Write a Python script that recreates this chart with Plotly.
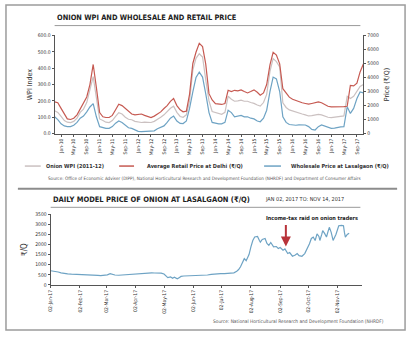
import pandas as pd
import plotly.graph_objects as go

# ---------------- monthly series, Nov-2009 .. Nov-2017 ----------------
months = pd.date_range("2009-11-01", "2017-11-01", freq="MS")

retail_delhi = [
    2260, 2200,
    1800, 1400, 1050, 1010, 1100, 1340, 1750, 2140, 2615, 3500, 4930, 3300,
    1500, 1200, 1150, 1150, 1300, 1700, 2100, 2000, 1800, 1555, 1400, 1340,
    1380, 1400, 1300, 1200, 1150, 1250, 1400, 1550, 1790, 2000, 2300, 2500,
    2000, 1700, 1555, 1600, 2800, 5000, 5800, 6430, 6200, 4970, 2850, 2400,
    2140, 2100, 2080, 2150, 3090, 3000, 3090, 3050, 3120, 3000, 2900, 3000,
    3120, 2950, 2735, 2900, 3500, 4900, 5800, 5600, 4970, 3200, 2850, 2600,
    2450, 2350, 2263, 2200, 2150, 2100, 2150, 2200, 2263, 2200, 2100, 1950,
    1910, 1900, 1900, 1910, 1920, 1950, 3440, 3400, 3600, 4400, 4970,
]

wholesale_lasalgaon = [
    1200, 1000,
    700, 550, 495, 500, 600, 800, 1100, 1250, 1550, 1900, 2140, 1200,
    495, 420, 380, 375, 500, 750, 900, 800, 600, 420, 375, 250,
    160, 140, 150, 140, 140, 200, 350, 450, 550, 800, 1100, 1250,
    900, 730, 720, 900, 1800, 2970, 4000, 4380, 4030, 2850, 1500, 800,
    730, 700, 700, 800, 1670, 1500, 1200, 1250, 1300, 1200, 1200, 1100,
    1050, 900, 850, 1100, 1670, 3000, 4030, 3900, 3000, 1200, 800, 650,
    615, 600, 620, 610, 615, 500, 300, 260, 500, 615, 550, 450,
    380, 400, 450, 480, 495, 1910, 1440, 1800, 2500, 2970, 2900,
]

onion_wpi = [
    140, 130,
    105, 80, 70, 68, 75, 95, 130, 150, 190, 260, 348, 220,
    90, 80, 70, 68, 80, 105, 128, 120, 100, 88, 85, 75,
    70, 68, 70, 68, 68, 75, 90, 100, 115, 135, 155, 168,
    130, 105, 100, 115, 200, 388, 460, 488, 468, 330, 200, 135,
    128, 120, 118, 130, 228, 210, 198, 200, 205, 198, 198, 190,
    185, 175, 168, 190, 240, 380, 458, 440, 408, 188, 160, 145,
    138, 130, 125, 120, 115, 108, 110, 115, 118, 115, 108, 100,
    98, 100, 102, 105, 108, 228, 215, 228, 260, 288, 300,
]

# ---------------- daily modal price at Lasalgaon, 2017 ----------------
daily_dates = [
    "2017-01-02", "2017-01-04", "2017-01-07", "2017-01-10", "2017-01-13", "2017-01-17",
    "2017-01-20", "2017-01-24", "2017-01-27", "2017-01-31", "2017-02-03", "2017-02-07",
    "2017-02-10", "2017-02-14", "2017-02-17", "2017-02-21", "2017-02-24", "2017-02-28",
    "2017-03-03", "2017-03-06", "2017-03-08", "2017-03-11", "2017-03-15", "2017-03-18",
    "2017-03-22", "2017-03-25", "2017-03-29", "2017-04-01", "2017-04-05", "2017-04-08",
    "2017-04-12", "2017-04-15", "2017-04-19", "2017-04-22", "2017-04-26", "2017-04-29",
    "2017-05-02", "2017-05-04", "2017-05-06", "2017-05-09", "2017-05-11", "2017-05-13",
    "2017-05-16", "2017-05-18", "2017-05-20", "2017-05-23", "2017-05-27", "2017-05-31",
    "2017-06-03", "2017-06-07", "2017-06-10", "2017-06-14", "2017-06-17", "2017-06-21",
    "2017-06-24", "2017-06-28", "2017-07-01", "2017-07-05", "2017-07-08", "2017-07-12",
    "2017-07-15", "2017-07-18", "2017-07-20", "2017-07-22", "2017-07-24", "2017-07-26",
    "2017-07-28", "2017-07-31", "2017-08-02", "2017-08-04", "2017-08-06", "2017-08-09",
    "2017-08-11", "2017-08-12", "2017-08-14", "2017-08-17", "2017-08-19", "2017-08-21",
    "2017-08-23", "2017-08-26", "2017-08-29", "2017-08-31", "2017-09-02", "2017-09-05",
    "2017-09-07", "2017-09-10", "2017-09-12", "2017-09-15", "2017-09-18", "2017-09-20",
    "2017-09-22", "2017-09-25", "2017-09-28", "2017-09-30", "2017-10-03", "2017-10-05",
    "2017-10-07", "2017-10-09", "2017-10-11", "2017-10-13", "2017-10-14", "2017-10-16",
    "2017-10-17", "2017-10-19", "2017-10-21", "2017-10-23", "2017-10-24", "2017-10-26",
    "2017-10-28", "2017-10-31", "2017-11-03", "2017-11-06", "2017-11-08", "2017-11-09",
    "2017-11-10", "2017-11-12", "2017-11-14",
]
daily_price = [
    700, 690, 670, 640, 600, 560,
    545, 530, 520, 510, 500, 495,
    485, 480, 470, 470, 465, 470,
    500, 560, 520, 490, 480, 490,
    500, 520, 545, 560, 575, 585,
    590, 600, 595, 590, 585, 580,
    540, 430, 360, 400, 330, 380,
    300, 360, 420, 440, 450, 455,
    450, 445, 455, 470, 490, 520,
    540, 550, 555, 560, 565, 575,
    600, 680, 760, 900, 1150, 1300,
    1200, 1500, 1880, 2200, 2370, 2400,
    2200, 2120, 2250, 2300, 2050, 1960,
    2100, 1880, 1900, 1800, 1850, 1720,
    1780, 1555, 1600, 1420, 1480, 1555,
    1450, 1420, 1550, 1720, 2040, 2300,
    2370, 2200, 2530, 2400, 2200, 2500,
    2690, 2550, 2370, 2700, 2850, 2600,
    2200, 2500, 2930, 2950, 2930, 2600,
    2370, 2500, 2560,
]

RED = "#c65a52"
BLUE = "#6ea3c4"
WPI_GREY = "#cbc1c1"
AXIS = "#555555"
NARROW = "Liberation Sans Narrow, DejaVu Sans Condensed, Arial Narrow, sans-serif"

W, H = 413, 339


def px(x):
    return x / W


def py(y):
    return 1 - y / H


fig = go.Figure()

fig.add_trace(go.Scatter(x=months, y=onion_wpi, mode="lines", name="Onion WPI (2011-12)",
                         line=dict(color=WPI_GREY, width=1.2), xaxis="x", yaxis="y"))
fig.add_trace(go.Scatter(x=months, y=retail_delhi, mode="lines",
                         name="Average Retail Price at Delhi (₹/Q)",
                         line=dict(color=RED, width=1.2), xaxis="x", yaxis="y2"))
fig.add_trace(go.Scatter(x=months, y=wholesale_lasalgaon, mode="lines",
                         name="Wholesale Price at Lasalgaon (₹/Q)",
                         line=dict(color=BLUE, width=1.2), xaxis="x", yaxis="y2"))
fig.add_trace(go.Scatter(x=pd.to_datetime(daily_dates), y=daily_price, mode="lines",
                         name="Lasalgaon modal price", line=dict(color=BLUE, width=1.2),
                         xaxis="x2", yaxis="y3"))

tickfont = dict(family=NARROW, size=5, color="#333333")
axis_common = dict(showgrid=False, zeroline=False, showline=True, linecolor=AXIS,
                   linewidth=1, ticks="outside", ticklen=2, tickcolor=AXIS,
                   tickfont=tickfont)

fig.update_layout(
    width=W, height=H,
    margin=dict(l=0, r=0, t=0, b=0),
    paper_bgcolor="white", plot_bgcolor="white",
    showlegend=False,
    xaxis=dict(domain=[px(52), px(363)], anchor="y",
               range=["2009-11-01", "2017-11-01"],
               tick0="2010-01-01", dtick="M4", tickformat="%b-%y", tickangle=-90,
               **axis_common),
    yaxis=dict(domain=[py(133), py(33)], anchor="x", range=[0, 600], dtick=100,
               tickformat=".1f",
               title=dict(text="WPI Index", font=dict(family=NARROW, size=7, color="#333"),
                          standoff=4),
               **axis_common),
    yaxis2=dict(overlaying="y", side="right", anchor="x", range=[0, 7000], dtick=1000,
                title=dict(text="Price (₹/Q)", font=dict(family=NARROW, size=7, color="#333"),
                           standoff=6),
                **axis_common),
    xaxis2=dict(domain=[px(48), px(362)], anchor="y3",
                range=["2017-01-02", "2017-11-28"],
                tick0="2017-01-02", dtick="M1", tickformat="%d-%b-%y", tickangle=-90,
                **axis_common),
    yaxis3=dict(domain=[py(287), py(215)], anchor="x2", range=[0, 3500], dtick=500,
                title=dict(text="₹/Q", font=dict(family=NARROW, size=8, color="#333"),
                           standoff=6),
                **axis_common),
)

shapes = [
    # outer frame
    dict(type="rect", xref="paper", yref="paper", x0=px(3), x1=px(405), y0=py(333), y1=py(2),
         line=dict(color="#9c9c9c", width=1.5)),
    # title rule, upper panel
    dict(type="line", xref="paper", yref="paper", x0=px(52), x1=px(360), y0=py(23), y1=py(23),
         line=dict(color="#9a9a9a", width=1)),
    # panel separator
    dict(type="line", xref="paper", yref="paper", x0=px(15), x1=px(397), y0=py(189), y1=py(189),
         line=dict(color="#8c8c8c", width=2)),
    # title rule, lower panel
    dict(type="line", xref="paper", yref="paper", x0=px(48), x1=px(360), y0=py(208), y1=py(208),
         line=dict(color="#9a9a9a", width=1)),
]

# legend of the upper panel
legend_items = [
    (22, 38, 41, "Onion WPI (2011-12)", WPI_GREY),
    (117, 132, 143, "Average Retail Price at Delhi (₹/Q)", RED),
    (263, 280, 288, "Wholesale Price at Lasalgaon (₹/Q)", BLUE),
]
annotations = []
for x0, x1, xt, label, color in legend_items:
    shapes.append(dict(type="line", xref="paper", yref="paper", x0=px(x0), x1=px(x1),
                       y0=py(166), y1=py(166), line=dict(color=color, width=1.5)))
    annotations.append(dict(xref="paper", yref="paper", x=px(xt), y=py(166), text=f"<b>{label}</b>",
                            showarrow=False, xanchor="left", yanchor="middle",
                            font=dict(family=NARROW, size=5.5, color="#333")))

annotations += [
    dict(xref="paper", yref="paper", x=px(52), y=py(15),
         text="<b>ONION WPI AND WHOLESALE AND RETAIL PRICE</b>", showarrow=False,
         xanchor="left", yanchor="middle", font=dict(family=NARROW, size=7.4, color="#222")),
    dict(xref="paper", yref="paper", x=px(203), y=py(179),
         text="Source: Office of Economic Adviser (DIPP), National Horticultural Research and "
              "Development Foundation (NHRDF) and Department of Consumer Affairs",
         showarrow=False, xanchor="center", yanchor="middle",
         font=dict(family=NARROW, size=4.6, color="#555")),
    dict(xref="paper", yref="paper", x=px(48), y=py(200),
         text="<b>DAILY MODEL PRICE OF ONION AT LASALGAON (₹/Q)</b>", showarrow=False,
         xanchor="left", yanchor="middle", font=dict(family=NARROW, size=7.5, color="#222")),
    dict(xref="paper", yref="paper", x=px(262), y=py(200),
         text="JAN 02, 2017 TO: NOV 14, 2017", showarrow=False,
         xanchor="left", yanchor="middle", font=dict(family=NARROW, size=5.5, color="#333")),
    dict(xref="paper", yref="paper", x=px(311), y=py(219),
         text="<b>Income-tax raid on onion traders</b>", showarrow=False,
         xanchor="center", yanchor="middle", font=dict(family=NARROW, size=5.5, color="#222")),
    # arrow pointing at the September dip
    dict(xref="x2", yref="y3", x="2017-09-08", y=1900, text="", showarrow=True,
         ax=0, ay=-23, arrowhead=2, arrowsize=1, arrowwidth=2, arrowcolor="#b8333a"),
    dict(xref="paper", yref="paper", x=px(386), y=py(324),
         text="Source: National Horticultural Research and Development Foundation (NHRDF)",
         showarrow=False, xanchor="right", yanchor="middle",
         font=dict(family=NARROW, size=4.8, color="#555")),
]

fig.update_layout(shapes=shapes, annotations=annotations)

fig.write_html("out.html")
